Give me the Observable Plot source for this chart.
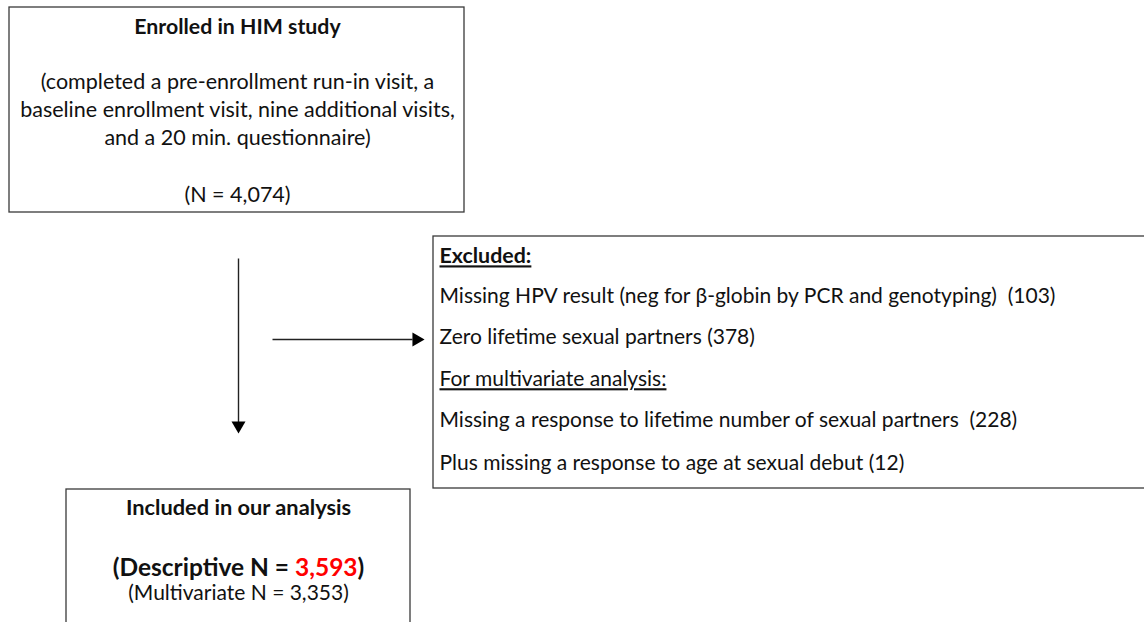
<!DOCTYPE html>
<html>
<head>
<meta charset="utf-8">
<script src="https://cdn.jsdelivr.net/npm/d3@7"></script>
<script src="https://cdn.jsdelivr.net/npm/@observablehq/plot@0.6"></script>
<style>
  html, body { margin: 0; padding: 0; background: #fff; }
  svg text { white-space: pre; }
</style>
</head>
<body>
<div id="chart"></div>
<script>
// ---- data (content only) ----
const enrolledTitle = "Enrolled in HIM study";
const enrolledDetail = [
  "(completed a pre-enrollment run-in visit, a",
  "baseline enrollment visit, nine additional visits,",
  "and a 20 min. questionnaire)"
];
const enrolledN = 4074;
const excludedHeader = "Excluded:";
const excludedReasons = [
  "Missing HPV result (neg for β-globin by PCR and genotyping)  ",
  "Zero lifetime sexual partners "
];
const excludedCounts = [103, 378];
const multivariateHeader = "For multivariate analysis:";
const multivariateReasons = [
  "Missing a response to lifetime number of sexual partners  ",
  "Plus missing a response to age at sexual debut "
];
const multivariateCounts = [228, 12];
const includedTitle = "Included in our analysis";
const descriptiveN = 3593;
const multivariateN = 3353;

// ---- layout (positions, sizes, styles) ----
const W = 1144, H = 622;
const fmt = d3.format(",");
const FONT = "Lato, 'Open Sans', sans-serif";
const ink = "#111";
const descStr = `(Descriptive N = ${fmt(descriptiveN)})`;

const boxes = [
  {x1: 9, x2: 464, y1: 7, y2: 212},
  {x1: 433, x2: 1150, y1: 236, y2: 488},
  {x1: 66, x2: 410, y1: 489, y2: 630}
];
const shafts = [
  {x1: 238, y1: 258, x2: 238, y2: 422},
  {x1: 272, y1: 339, x2: 412, y2: 339}
];
const heads = [
  {x: 238, y: 425, rotate: 180},
  {x: 416, y: 339, rotate: 90}
];

const boldCentered = [
  {x: 237, y: 27, text: enrolledTitle, size: 21.3},
  {x: 238, y: 508, text: includedTitle, size: 21.8},
  {x: 238, y: 568, text: descStr, size: 24.5}
];
const plainCentered = [
  ...enrolledDetail.map((t, i) => ({x: 237, y: 82 + i * 28, text: t, size: 21.5})),
  {x: 237, y: 195, text: `(N = ${fmt(enrolledN)})`, size: 21.5},
  {x: 238, y: 593, text: `(Multivariate N = ${fmt(multivariateN)})`, size: 21}
];
const leftBold = [
  {y: 256, text: excludedHeader}
];
const leftPlain = [
  ...excludedReasons.map((t, i) => ({y: 296 + i * 41, text: t + `(${excludedCounts[i]})`})),
  {y: 379, text: multivariateHeader},
  ...multivariateReasons.map((t, i) => ({y: 420 + i * 43, text: t + `(${multivariateCounts[i]})`}))
];

const plot = Plot.plot({
  width: W, height: H,
  margin: 0,
  x: {domain: [0, W], range: [0, W], axis: null},
  y: {domain: [0, H], range: [0, H], axis: null},
  style: {fontFamily: FONT, background: "#fff", color: ink},
  marks: [
    Plot.rect(boxes, {x1: "x1", x2: "x2", y1: "y1", y2: "y2", fill: "white", stroke: "#3a3a3a", strokeWidth: 1.3}),
    Plot.link(shafts, {x1: "x1", y1: "y1", x2: "x2", y2: "y2", stroke: "#222", strokeWidth: 1.4}),
    Plot.dot(heads, {x: "x", y: "y", rotate: "rotate", symbol: "triangle", r: 5.2, fill: "#000", stroke: null}),
    Plot.text(boldCentered, {x: "x", y: "y", text: "text", fontSize: d => d.size, fontWeight: "bold", textAnchor: "middle", lineAnchor: "middle", fill: ink}),
    Plot.text(plainCentered, {x: "x", y: "y", text: "text", fontSize: d => d.size, textAnchor: "middle", lineAnchor: "middle", fill: ink}),
    Plot.text(leftBold, {x: () => 439, y: "y", text: "text", fontSize: 21.4, fontWeight: "bold", textAnchor: "start", lineAnchor: "middle", fill: ink}),
    Plot.text(leftPlain, {x: () => 439, y: "y", text: "text", fontSize: 21, textAnchor: "start", lineAnchor: "middle", fill: ink})
  ]
});

// Fine styling: underline headers, red count
plot.querySelectorAll("text").forEach(t => {
  const s = t.textContent;
  if (s === excludedHeader || s === multivariateHeader) {
    t.setAttribute("text-decoration", "underline");
    t.style.textDecoration = "underline";
  }
  if (s === descStr) {
    const parts = [["(Descriptive N = ", ink], [fmt(descriptiveN), "#ff0000"], [")", ink]];
    while (t.firstChild) t.removeChild(t.firstChild);
    parts.forEach(([str, col]) => {
      const ts = document.createElementNS("http://www.w3.org/2000/svg", "tspan");
      ts.textContent = str;
      ts.setAttribute("fill", col);
      t.appendChild(ts);
    });
  }
});

document.getElementById("chart").appendChild(plot);
</script>
</body>
</html>
